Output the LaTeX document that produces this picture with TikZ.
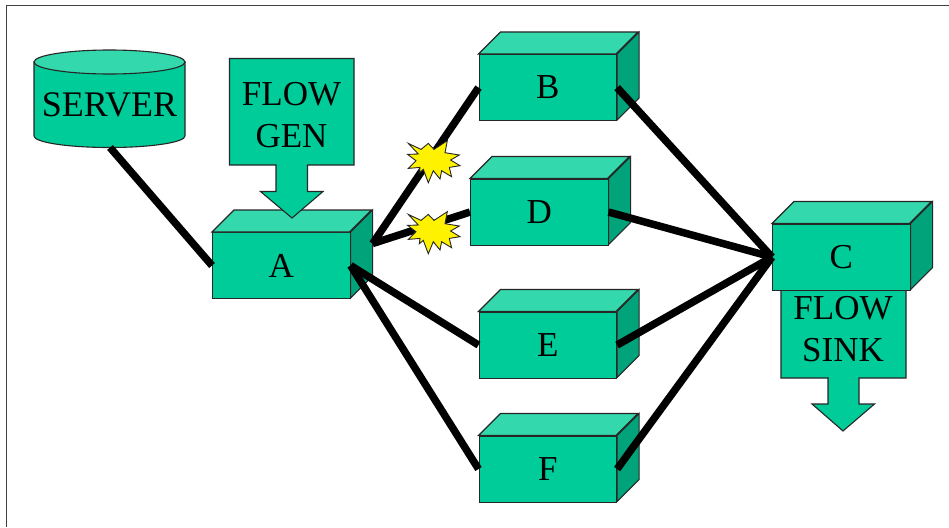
\documentclass[tikz,border=0pt]{standalone}
\usepackage{fontspec}
\setmainfont{Liberation Serif}
\definecolor{BoxFront}{HTML}{00CC99}
\definecolor{BoxTop}{HTML}{33D9AD}
\definecolor{BoxSide}{HTML}{00A37A}
\tikzset{
  outline/.style={draw=black!85,line width=1.1pt,line join=miter},
  boxfront/.style={outline,fill=BoxFront,minimum width=137.5pt,minimum height=66pt,inner sep=0pt},
  flowtext/.style={align=center,inner sep=0pt,font=\fontsize{35}{42}\selectfont},
  link/.style={line width=7.5pt,black}
}
% #1 name, #2 left, #3 top of the front face
\newcommand{\DrawBox}[3]{
  \node[boxfront,flowtext,anchor=north west] (#1) at (#2,#3) {#1};
  \draw[outline,fill=BoxTop] (#1.north west) -- ++(22,-22) -- ++(137.5,0) -- ++(-22,22) -- cycle;
  \draw[outline,fill=BoxSide] (#1.north east) -- ++(22,-22) -- ++(0,66) -- ++(-22,22) -- cycle;
  \coordinate (#1back) at ([shift={(22,-22)}]#1.east);
}
\newcommand{\DrawStar}[2]{
  \draw[outline,fill=yellow,line width=0.9pt,shift={(#1,#2)}] (-25,-18.3) -- (-12.3,-12.3) -- (-5,-18.3) -- (.7,-12.3)
    -- (14,-21) -- (11.7,-9) -- (26,-6.7) -- (17.3,-1.7) -- (26.7,4) -- (16,5.7) -- (18.3,15) -- (8.3,9)
    -- (6.7,17.3) -- (0,9) -- (-5,21) -- (-10,7.7) -- (-14,11) -- (-13.3,5.7) -- (-25,6.7) -- (-17.3,-1)
    -- (-25.7,-7.3) -- (-15,-7.7) -- cycle;
}
\begin{document}
\begin{tikzpicture}[x=1pt,y=-1pt]
  \useasboundingbox (0,0) rectangle (949,527);
  \fill[white] (0,0) rectangle (949,527);
  \draw[black!75,line width=1.5pt] (6.7,527) -- (6.7,5.3) -- (949,5.3);

  % server
  \draw[outline,fill=BoxFront] (34,62) -- (34,136) arc[start angle=180,end angle=0,x radius=75.5,y radius=11.5] -- (185,62) -- cycle;
  \draw[outline,fill=BoxTop] (109.5,62) ellipse[x radius=75.5,y radius=12];
  \node[flowtext,font=\fontsize{36}{42}\selectfont] (server) at (109.5,105) {SERVER};
  \coordinate (serverbottom) at (110,147.5);

  % boxes
  \DrawBox{A}{212}{232}
  \DrawBox{B}{478.5}{54}
  \DrawBox{D}{470}{178.5}
  \DrawBox{E}{478.5}{311.5}
  \DrawBox{F}{478.5}{435.5}

  % flow arrows
  \draw[outline,fill=BoxFront] (781,280) -- (906,280) -- (906,378) -- (859,378) -- (859,404) -- (874.5,404)
    -- (843,431) -- (812,404) -- (828,404) -- (828,378) -- (781,378) -- cycle;
  \node[flowtext] (sink) at (843,329) {FLOW\\SINK};
  \DrawBox{C}{772}{223.5}
  \draw[outline,fill=BoxFront] (229.5,58.5) -- (354,58.5) -- (354,165) -- (307.5,165) -- (307.5,191.5) -- (323,191.5)
    -- (292,218) -- (260.5,191.5) -- (276,191.5) -- (276,165) -- (229.5,165) -- cycle;
  \node[flowtext] (gen) at (291.5,115) {FLOW\\GEN};

  % links
  \draw[link] (serverbottom) -- (A.west);
  \draw[link] (Aback) -- (B.west);
  \draw[link] (Aback) -- (D.west);
  \draw[link] (A.east) -- (E.west);
  \draw[link] (A.east) -- (F.west);
  \draw[link] (B.east) -- (C.west);
  \draw[link] (D.east) -- (C.west);
  \draw[link] (E.east) -- (C.west);
  \draw[link] (F.east) -- (C.west);

  % breaks
  \DrawStar{433.3}{161.7}
  \DrawStar{433.3}{232.7}
\end{tikzpicture}
\end{document}
